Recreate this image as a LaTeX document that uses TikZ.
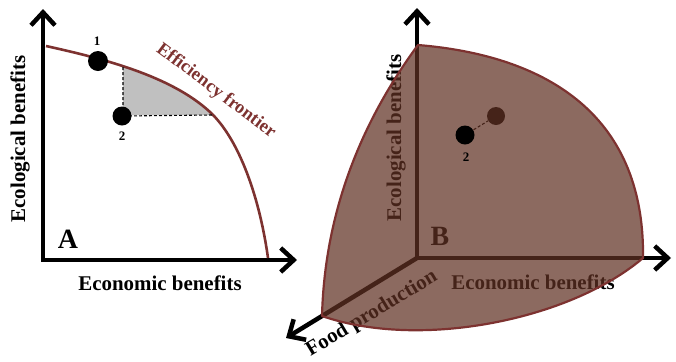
\documentclass[tikz,border=0pt]{standalone}
\usepackage{fontspec}
\setmainfont{Liberation Serif}
\usetikzlibrary{arrows.meta}
\definecolor{frontier}{RGB}{125,50,48}
\definecolor{surf}{RGB}{96,49,35}
\definecolor{greyfill}{RGB}{192,192,192}
\tikzset{
  axis/.style={line width=4.5bp, line join=miter},
  barb/.tip={Straight Barb[length=13bp,width=24bp]},
  lab/.style={font=\fontsize{21}{25}\selectfont\bfseries, inner sep=0pt},
  biglab/.style={font=\fontsize{28}{32}\selectfont\bfseries, inner sep=0pt},
  numlab/.style={font=\fontsize{13}{15}\selectfont\bfseries, inner sep=0pt},
  flab/.style={font=\fontsize{18.5}{22}\selectfont\bfseries, text=frontier, inner sep=0pt},
  dot/.style={circle, fill=black, inner sep=0pt},
  dashline/.style={dashed, dash pattern=on 3bp off 2bp, line width=1.1bp},
  fcurve/.style={draw=frontier, line width=2.6bp},
  surface/.style={fill=surf, fill opacity=0.72, draw=frontier, line width=2.2bp, line join=round}
}
\begin{document}
\begin{tikzpicture}[x=1bp,y=-1bp]
\useasboundingbox (0,0) rectangle (676,361);
% ---------- Panel A ----------
\coordinate (Ao) at (43,260);
\coordinate (Ay) at (43,9);
\coordinate (Ax) at (297,260);
\coordinate (d1) at (123,67);
\coordinate (d2) at (212,115);
\begin{scope}
  \clip (46,46) .. controls (100,58) and (170,75) .. (210,112) .. controls (240,140) and (260,200) .. (268,258) -- (46,258) -- cycle;
  \fill[greyfill] (123,55) rectangle (235,115);
\end{scope}
\draw[axis, {barb}-{barb}] (Ay) -- (Ao) -- (Ax);
\draw[fcurve] (46,46) .. controls (100,58) and (170,75) .. (210,112) .. controls (240,140) and (260,200) .. (268,258);
\node[dot, minimum size=20bp] (P1) at (98,61) {};
\coordinate (p2c) at (122,116);
\draw[dashline] (d1) -- (d1 |- p2c) -- (d2);
\node[dot, minimum size=19bp] (P2) at (p2c) {};
\node[numlab] (l1) at (97,41) {1};
\node[numlab] (l2) at (122,136) {2};
\node[lab, rotate=90] (ya) at (20,139) {Ecological benefits};
\node[lab] (xa) at (160,283) {Economic benefits};
\node[biglab] (A) at (68,239) {A};
\node[flab, rotate=-37] (ef) at (216,91) {Efficiency frontier};
% ---------- Panel B ----------
\coordinate (Bo) at (417,258);
\coordinate (By) at (417,8);
\coordinate (Bx) at (671,258);
\coordinate (Bz) at (286,338);
\coordinate (q2c) at (465,135);
\draw[axis, {barb}-{barb}] (By) -- (Bo) -- (Bx);
\draw[axis, -{barb}] (Bo) -- (Bz);
\node[lab, rotate=90] (yb) at (396,138) {Ecological benefits};
\node[lab] (xb) at (533,282) {Economic benefits};
\node[lab, rotate=31] (zb) at (372,314) {Food production};
\node[biglab] (B) at (440,236) {B};
\node[dot, minimum size=18bp] (Q1) at (496,116) {};
\draw[dashline] (q2c) -- (Q1);
\filldraw[surface] (418,45) .. controls (540,55) and (645,110) .. (643,258) .. controls (570,320) and (420,350) .. (322,316) .. controls (325,200) and (370,110) .. (418,45) -- cycle;
\node[dot, minimum size=19bp] (Q2) at (q2c) {};
\node[numlab] (l3) at (466,157) {2};
\end{tikzpicture}
\end{document}
